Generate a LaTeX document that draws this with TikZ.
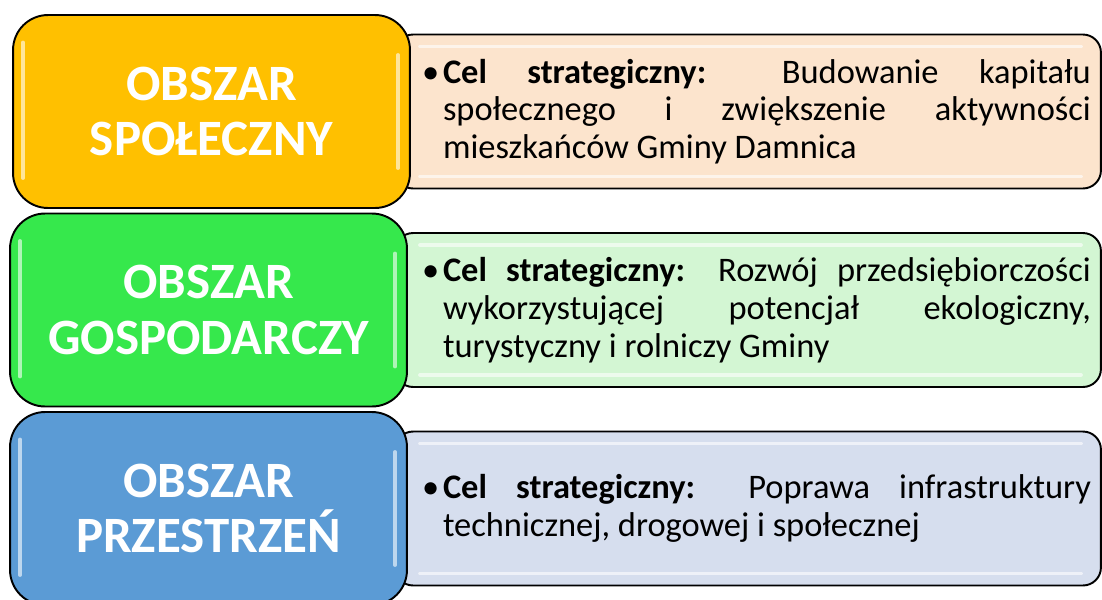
\documentclass[tikz,border=0pt]{standalone}
\usepackage{fontspec}
\setmainfont{Carlito}
\usetikzlibrary{positioning}
\definecolor{obszarGold}{HTML}{FFC000}
\definecolor{obszarGreen}{HTML}{36E84C}
\definecolor{obszarBlue}{HTML}{5B9BD5}
\definecolor{celGold}{HTML}{FCE4CD}
\definecolor{celGreen}{HTML}{D3F6D3}
\definecolor{celBlue}{HTML}{D6DEEE}
\tikzset{
  obszar diagram/.style={
    x=0.02cm, y=-0.02cm, line width=1.1pt,
    every node/.style={inner sep=0pt, outer sep=0pt}
  },
  obszar box/.style={draw=black, rounded corners=0.7cm,
    minimum width=7.94cm, minimum height=3.86cm, align=center,
    text=white, font=\fontsize{29}{31.5}\selectfont\bfseries},
  cel box/.style={draw=black, rounded corners=0.36cm,
    minimum width=14.12cm, minimum height=3.08cm},
  cel text/.style={text width=13.38cm, align=justify, anchor=west,
    font=\fontsize{19.6}{21.5}\selectfont},
  obszar gloss/.style={draw=white, opacity=0.6, line width=2.2pt, line cap=round}
}
\newcommand{\CelBullet}{\hyphenpenalty=10000 \tolerance=10000
  \leftskip=0.42cm \noindent\hspace*{-0.42cm}\makebox[0.42cm][l]{•}}
\newcommand{\ObszarRow}[7]{%
  % cel box behind, obszar box in front
  \node[cel box, fill=#5] (cel#1) at (748,#2) {};
  \draw[obszar gloss] ([shift={(0.5cm,-0.24cm)}]cel#1.north west)
    -- ([shift={(-0.4cm,-0.24cm)}]cel#1.north east);
  \draw[obszar gloss] ([shift={(0.5cm,0.24cm)}]cel#1.south west)
    -- ([shift={(-0.4cm,0.24cm)}]cel#1.south east);
  \node[cel text] (celtxt#1) at (422,#2) {\CelBullet\textbf{Cel strategiczny:} #7\par};
  \node[obszar box, fill=#4] (obszar#1) at (#3,#2) {#6};
  \draw[obszar gloss] ([shift={(0.2cm,-0.55cm)}]obszar#1.north west)
    -- ([shift={(0.2cm,0.6cm)}]obszar#1.south west);
  \draw[obszar gloss] ([shift={(-0.24cm,-0.8cm)}]obszar#1.north east)
    -- ([shift={(-0.24cm,0.8cm)}]obszar#1.south east);
}

\begin{document}
\begin{tikzpicture}[obszar diagram]
  \useasboundingbox (0,0) rectangle (1102,599);
  \clip (0,0) rectangle (1102,599);
  \ObszarRow{1}{111.5}{211.5}{obszarGold}{celGold}
    {OBSZAR\\SPOŁECZNY}
    {Budowanie kapitału\linebreak społecznego i zwiększenie aktywności\linebreak mieszkańców Gminy Damnica}
  \ObszarRow{2}{310}{208.5}{obszarGreen}{celGreen}
    {OBSZAR\\GOSPODARCZY}
    {Rozwój przedsiębiorczości\linebreak wykorzystującej potencjał ekologiczny,\linebreak turystyczny i rolniczy Gminy}
  \ObszarRow{3}{508.5}{208.5}{obszarBlue}{celBlue}
    {OBSZAR\\PRZESTRZEŃ}
    {Poprawa infrastruktury\linebreak technicznej, drogowej i społecznej}
\end{tikzpicture}
\end{document}
